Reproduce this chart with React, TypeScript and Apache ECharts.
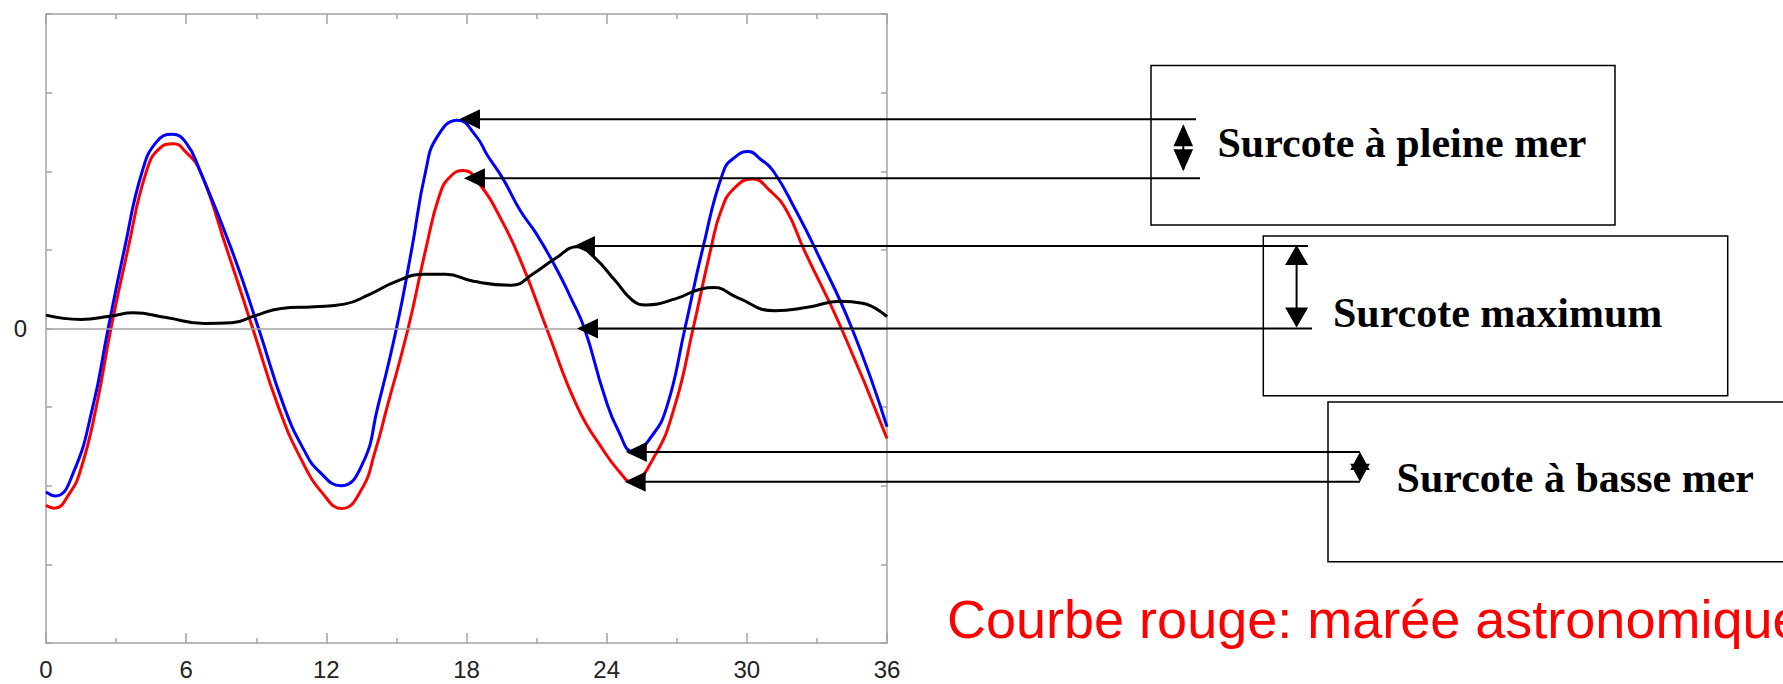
import { useEffect, useRef } from "react";
import * as echarts from "echarts";

// ---- Data (hours, levels) ----
const hourTicks = [0, 6, 12, 18, 24, 30, 36];

const redHours = [0, 0.35, 1.0, 1.5, 2.15, 2.78, 3.5, 4.3, 4.9, 5.45, 6.0, 6.6, 7.75, 8.85, 9.95, 10.95, 11.85, 12.65, 13.5, 14.1, 14.6, 15.5, 16.25, 16.85, 17.3, 17.86, 18.5, 19.55, 20.43, 21.43, 22.75, 23.86, 24.57, 25.05, 26.0, 26.9, 27.7, 28.45, 28.9, 29.45, 30.25, 31.0, 31.7, 32.45, 34.05, 36];
const redLevels = [-2.25, -2.285, -2.1, -1.78, -1.0, 0.0, 1.0, 2.0, 2.3, 2.35, 2.24, 2.0, 1.0, 0.0, -1.0, -1.68, -2.1, -2.29, -2.05, -1.55, -1.0, 0.0, 1.0, 1.7, 1.93, 2.01, 1.86, 1.35, 0.78, 0.0, -1.0, -1.55, -1.83, -1.95, -1.65, -1.0, 0.0, 1.0, 1.5, 1.78, 1.9, 1.75, 1.5, 1.0, 0.0, -1.4];

const blueHours = [0, 0.4, 1.15, 2.0, 2.66, 3.35, 4.12, 4.75, 5.4, 6.0, 6.6, 7.95, 9.1, 10.2, 11.05, 11.7, 12.62, 13.55, 14.2, 15.0, 15.65, 16.25, 16.75, 17.62, 18.4, 18.9, 19.57, 20.3, 21.0, 21.85, 22.45, 23.05, 23.9, 24.5, 25.15, 25.9, 26.57, 27.35, 28.1, 29.0, 29.5, 30.05, 30.6, 31.14, 32.1, 32.95, 34.5, 36];
const blueLevels = [-2.08, -2.13, -1.85, -1.0, 0.0, 1.0, 2.0, 2.38, 2.47, 2.36, 2.0, 1.0, 0.0, -1.0, -1.55, -1.82, -2.0, -1.72, -1.0, 0.0, 1.0, 2.0, 2.44, 2.65, 2.45, 2.2, 1.9, 1.5, 1.2, 0.76, 0.4, 0.0, -0.85, -1.3, -1.57, -1.38, -1.0, 0.0, 1.0, 2.0, 2.18, 2.25, 2.15, 2.0, 1.5, 1.0, 0.0, -1.25];

const surgeHours = [0, 1.5, 2.8, 3.73, 5.14, 6.78, 7.96, 8.9, 10.07, 11.48, 12.77, 13.83, 15.0, 16.2, 17.1, 18.3, 19.93, 20.87, 21.8, 22.75, 23.45, 24.39, 25.1, 25.68, 26.97, 27.9, 28.6, 29.55, 31.2, 32.6, 34.0, 34.95, 36];
const surgeLevels = [0.17, 0.115, 0.16, 0.2, 0.14, 0.064, 0.072, 0.157, 0.255, 0.277, 0.31, 0.43, 0.6, 0.69, 0.69, 0.6, 0.55, 0.7, 0.89, 1.04, 0.91, 0.6, 0.36, 0.3, 0.38, 0.49, 0.52, 0.4, 0.225, 0.27, 0.345, 0.32, 0.15];

// Annotation arrow tips (hours, level)
const pleineMerTips = [[17.68, 2.66], [17.89, 1.91]];
const maximumTips = [[22.6, 1.05], [22.73, 0]];
const basseMerTips = [[24.82, -1.57], [24.77, -1.95]];

const labelPleineMer = "Surcote à pleine mer";
const labelMaximum = "Surcote maximum";
const labelBasseMer = "Surcote à basse mer";
const labelRouge = "Courbe rouge: marée astronomique";

function pairs(xs: number[], ys: number[]) {
  return xs.map((x, i) => [x, ys[i]]);
}

export default function App() {
  const ref = useRef<HTMLDivElement>(null);

  useEffect(() => {
    if (!ref.current) return;
    const chart = echarts.init(ref.current, null, { renderer: "svg" });
    const axisGray = "#a3a3a3";
    const axisLineStyle = { color: axisGray, width: 1.5 };
    const xBase: any = {
      type: "value",
      min: 0,
      max: 36,
      interval: 6,
      axisLine: { show: true, onZero: false, lineStyle: axisLineStyle },
      axisTick: { show: true, inside: true, length: 10, lineStyle: axisLineStyle },
      minorTick: { show: true, splitNumber: 2, length: 5, lineStyle: axisLineStyle },
      splitLine: { show: false },
      minorSplitLine: { show: false },
    };
    const yBase: any = {
      type: "value",
      min: -4,
      max: 4,
      interval: 1,
      axisLine: { show: true, onZero: false, lineStyle: axisLineStyle },
      axisTick: { show: true, inside: true, length: 6, lineStyle: axisLineStyle },
      splitLine: { show: false },
    };
    const labelFont = { fontSize: 24, color: "#222", fontFamily: "Liberation Sans" };

    chart.setOption({
      animation: false,
      backgroundColor: "#ffffff",
      grid: { left: 46, right: 896, top: 14, bottom: 41, containLabel: false },
      xAxis: [
        {
          ...xBase,
          position: "bottom",
          axisLabel: {
            ...labelFont,
            margin: 14,
            formatter: (v: number) => (hourTicks.includes(v) ? String(v) : ""),
          },
        },
        { ...xBase, position: "top", axisLabel: { show: false } },
      ],
      yAxis: [
        {
          ...yBase,
          position: "left",
          axisLabel: { ...labelFont, margin: 19, formatter: (v: number) => (v === 0 ? "0" : "") },
        },
        { ...yBase, position: "right", axisLabel: { show: false } },
      ],
      series: [
        {
          type: "line",
          name: "marée astronomique",
          data: pairs(redHours, redLevels),
          smooth: 0.5,
          showSymbol: false,
          silent: true,
          lineStyle: { color: "#ff0000", width: 3 },
          itemStyle: { color: "#ff0000" },
          markLine: {
            silent: true,
            symbol: "none",
            label: { show: false },
            lineStyle: { color: axisGray, width: 1.5, type: "solid" },
            data: [{ yAxis: 0 }],
          },
          z: 3,
        },
        {
          type: "line",
          name: "niveau observé",
          data: pairs(blueHours, blueLevels),
          smooth: 0.5,
          showSymbol: false,
          silent: true,
          lineStyle: { color: "#0000ff", width: 3 },
          itemStyle: { color: "#0000ff" },
          z: 4,
        },
        {
          type: "line",
          name: "surcote",
          data: pairs(surgeHours, surgeLevels),
          smooth: 0.5,
          showSymbol: false,
          silent: true,
          lineStyle: { color: "#000000", width: 3 },
          itemStyle: { color: "#000000" },
          z: 5,
        },
      ],
    });

    const px = (p: number[]) => chart.convertToPixel({ xAxisIndex: 0, yAxisIndex: 0 }, p) as number[];
    const elements: any[] = [];

    const box = (x: number, y: number, w: number, h: number) => {
      elements.push({
        type: "rect",
        shape: { x, y, width: w, height: h },
        style: { fill: "none", stroke: "#000", lineWidth: 1.5 },
        z: 10,
      });
    };
    const leftArrow = (tip: number[], endX: number) => {
      const [x, y] = px(tip);
      elements.push({
        type: "line",
        shape: { x1: x + 18, y1: y, x2: endX, y2: y },
        style: { stroke: "#000", lineWidth: 2 },
        z: 11,
      });
      elements.push({
        type: "polygon",
        shape: { points: [[x, y], [x + 21, y - 10], [x + 21, y + 10]] },
        style: { fill: "#000" },
        z: 11,
      });
      return y;
    };
    const doubleArrow = (x: number, yTop: number, yBot: number, head: number, half: number) => {
      elements.push({
        type: "line",
        shape: { x1: x, y1: yTop + 2, x2: x, y2: yBot - 2 },
        style: { stroke: "#000", lineWidth: 2 },
        z: 11,
      });
      elements.push({
        type: "polygon",
        shape: { points: [[x, yTop], [x - half, yTop + head], [x + half, yTop + head]] },
        style: { fill: "#000" },
        z: 11,
      });
      elements.push({
        type: "polygon",
        shape: { points: [[x, yBot], [x - half, yBot - head], [x + half, yBot - head]] },
        style: { fill: "#000" },
        z: 11,
      });
    };
    const label = (text: string, x: number, y: number, font: string, fill: string) => {
      elements.push({
        type: "text",
        style: { text, x, y, font, fill, textAlign: "left", textVerticalAlign: "middle" },
        z: 12,
      });
    };

    const serif = 'bold 42px "Liberation Serif"';

    // Box 1: pleine mer
    box(1151, 65.5, 464, 159.5);
    const y1a = leftArrow(pleineMerTips[0], 1196);
    const y1b = leftArrow(pleineMerTips[1], 1200);
    doubleArrow(1183.3, y1a + 5, y1b - 7, 22, 9.8);
    label(labelPleineMer, 1217.5, 143, serif, "#000");

    // Box 2: maximum
    box(1263.3, 236, 464.4, 159.7);
    const y2a = leftArrow(maximumTips[0], 1308);
    const y2b = leftArrow(maximumTips[1], 1312);
    doubleArrow(1296.6, y2a - 1, y2b - 1, 20, 11.5);
    label(labelMaximum, 1333, 312.5, serif, "#000");

    // Box 3: basse mer
    box(1328, 402, 520, 159.7);
    const y3a = leftArrow(basseMerTips[0], 1360);
    const y3b = leftArrow(basseMerTips[1], 1360);
    doubleArrow(1360, y3a, y3b, 18, 9.8);
    label(labelBasseMer, 1396.6, 478, serif, "#000");

    // Red caption (cut at the right edge, as in the reference)
    label(labelRouge, 947, 619, '54px "Liberation Sans"', "#ff0000");

    chart.setOption({ graphic: { elements } });

    return () => chart.dispose();
  }, []);

  return (
    <div
      ref={ref}
      style={{ position: "fixed", left: 0, top: 0, width: 1783, height: 684, background: "#fff" }}
    />
  );
}
